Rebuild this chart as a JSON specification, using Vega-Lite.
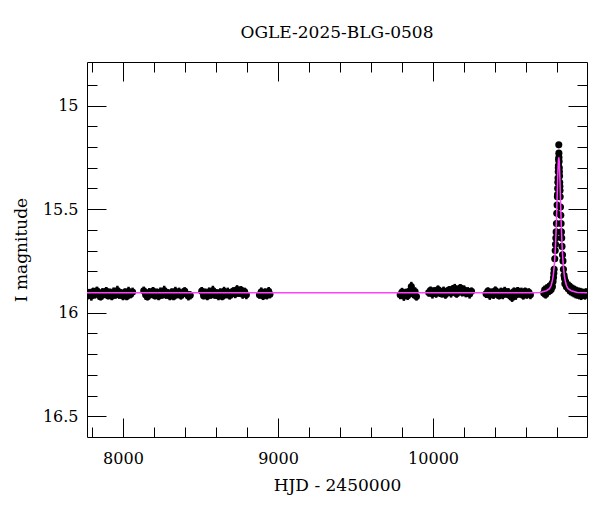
{
  "$schema": "https://vega.github.io/schema/vega-lite/v6.json",
  "width": 500,
  "height": 375,
  "autosize": {"type": "none"},
  "padding": {"left": 87, "top": 62, "right": 13, "bottom": 75},
  "title": {"text": "OGLE-2025-BLG-0508", "font": "DejaVu Serif", "fontSize": 17, "fontWeight": "normal", "color": "black", "offset": 20},
  "datasets": {
    "obs": [
      {"t":7772,"m":15.916,"e":0.020},{"t":7784,"m":15.903,"e":0.018},{"t":7796,"m":15.920,"e":0.022},{"t":7808,"m":15.898,"e":0.019},{"t":7820,"m":15.911,"e":0.021},
      {"t":7832,"m":15.894,"e":0.020},{"t":7844,"m":15.914,"e":0.023},{"t":7856,"m":15.923,"e":0.018},{"t":7868,"m":15.901,"e":0.020},{"t":7880,"m":15.909,"e":0.021},
      {"t":7892,"m":15.896,"e":0.020},{"t":7904,"m":15.918,"e":0.018},{"t":7916,"m":15.905,"e":0.022},{"t":7928,"m":15.921,"e":0.019},{"t":7940,"m":15.899,"e":0.021},
      {"t":7952,"m":15.913,"e":0.020},{"t":7964,"m":15.893,"e":0.023},{"t":7976,"m":15.915,"e":0.018},{"t":7988,"m":15.906,"e":0.020},{"t":8000,"m":15.919,"e":0.021},
      {"t":8012,"m":15.902,"e":0.020},{"t":8024,"m":15.922,"e":0.018},{"t":8036,"m":15.897,"e":0.022},{"t":8048,"m":15.912,"e":0.019},{"t":8062,"m":15.900,"e":0.021},
      {"t":8134,"m":15.894,"e":0.020},{"t":8146,"m":15.914,"e":0.023},{"t":8158,"m":15.923,"e":0.018},{"t":8170,"m":15.901,"e":0.020},{"t":8182,"m":15.909,"e":0.021},
      {"t":8194,"m":15.896,"e":0.020},{"t":8206,"m":15.918,"e":0.018},{"t":8218,"m":15.905,"e":0.022},{"t":8230,"m":15.921,"e":0.019},{"t":8242,"m":15.899,"e":0.021},
      {"t":8254,"m":15.913,"e":0.020},{"t":8266,"m":15.893,"e":0.023},{"t":8278,"m":15.915,"e":0.018},{"t":8290,"m":15.906,"e":0.020},{"t":8302,"m":15.919,"e":0.021},
      {"t":8314,"m":15.902,"e":0.020},{"t":8326,"m":15.922,"e":0.018},{"t":8338,"m":15.897,"e":0.022},{"t":8350,"m":15.912,"e":0.019},{"t":8362,"m":15.900,"e":0.021},
      {"t":8374,"m":15.917,"e":0.020},{"t":8386,"m":15.907,"e":0.023},{"t":8398,"m":15.895,"e":0.018},{"t":8410,"m":15.910,"e":0.020},{"t":8422,"m":15.920,"e":0.021},{"t":8434,"m":15.916,"e":0.020},
      {"t":8508,"m":15.896,"e":0.020},{"t":8520,"m":15.918,"e":0.018},{"t":8532,"m":15.905,"e":0.022},{"t":8544,"m":15.921,"e":0.019},{"t":8556,"m":15.899,"e":0.021},
      {"t":8568,"m":15.913,"e":0.020},{"t":8580,"m":15.893,"e":0.023},{"t":8592,"m":15.915,"e":0.018},{"t":8604,"m":15.906,"e":0.020},{"t":8616,"m":15.919,"e":0.021},
      {"t":8628,"m":15.902,"e":0.020},{"t":8640,"m":15.922,"e":0.018},{"t":8652,"m":15.897,"e":0.022},{"t":8664,"m":15.912,"e":0.019},{"t":8676,"m":15.900,"e":0.021},
      {"t":8688,"m":15.917,"e":0.020},{"t":8700,"m":15.907,"e":0.023},{"t":8712,"m":15.895,"e":0.018},{"t":8724,"m":15.910,"e":0.020},{"t":8736,"m":15.888,"e":0.021},
      {"t":8748,"m":15.904,"e":0.020},{"t":8760,"m":15.890,"e":0.018},{"t":8772,"m":15.911,"e":0.022},{"t":8784,"m":15.898,"e":0.019},{"t":8796,"m":15.914,"e":0.021},
      {"t":8880,"m":15.913,"e":0.020},{"t":8892,"m":15.899,"e":0.021},{"t":8904,"m":15.920,"e":0.019},{"t":8916,"m":15.904,"e":0.022},{"t":8928,"m":15.916,"e":0.020},{"t":8940,"m":15.897,"e":0.021},{"t":8948,"m":15.911,"e":0.020},
      {"t":9788,"m":15.914,"e":0.021},{"t":9800,"m":15.900,"e":0.020},{"t":9812,"m":15.921,"e":0.022},{"t":9824,"m":15.903,"e":0.019},{"t":9836,"m":15.918,"e":0.021},
      {"t":9848,"m":15.896,"e":0.020},{"t":9860,"m":15.874,"e":0.023},{"t":9872,"m":15.910,"e":0.020},{"t":9884,"m":15.898,"e":0.021},{"t":9893,"m":15.922,"e":0.020},
      {"t":9972,"m":15.903,"e":0.020},{"t":9984,"m":15.892,"e":0.018},{"t":9996,"m":15.910,"e":0.022},{"t":10008,"m":15.896,"e":0.019},{"t":10020,"m":15.907,"e":0.021},
      {"t":10032,"m":15.888,"e":0.020},{"t":10044,"m":15.901,"e":0.023},{"t":10056,"m":15.909,"e":0.018},{"t":10068,"m":15.894,"e":0.020},{"t":10080,"m":15.912,"e":0.021},
      {"t":10092,"m":15.898,"e":0.020},{"t":10104,"m":15.890,"e":0.018},{"t":10116,"m":15.905,"e":0.022},{"t":10128,"m":15.885,"e":0.019},{"t":10140,"m":15.882,"e":0.021},
      {"t":10152,"m":15.908,"e":0.020},{"t":10164,"m":15.893,"e":0.023},{"t":10176,"m":15.880,"e":0.018},{"t":10188,"m":15.902,"e":0.020},{"t":10200,"m":15.889,"e":0.021},
      {"t":10212,"m":15.906,"e":0.020},{"t":10224,"m":15.895,"e":0.018},{"t":10236,"m":15.910,"e":0.022},{"t":10248,"m":15.897,"e":0.019},
      {"t":10342,"m":15.909,"e":0.020},{"t":10354,"m":15.896,"e":0.018},{"t":10366,"m":15.916,"e":0.022},{"t":10378,"m":15.902,"e":0.019},{"t":10390,"m":15.913,"e":0.021},
      {"t":10402,"m":15.893,"e":0.020},{"t":10414,"m":15.907,"e":0.023},{"t":10426,"m":15.918,"e":0.018},{"t":10438,"m":15.899,"e":0.020},{"t":10450,"m":15.914,"e":0.021},
      {"t":10462,"m":15.895,"e":0.020},{"t":10474,"m":15.910,"e":0.018},{"t":10486,"m":15.903,"e":0.022},{"t":10498,"m":15.919,"e":0.019},{"t":10510,"m":15.927,"e":0.021},
      {"t":10522,"m":15.898,"e":0.020},{"t":10534,"m":15.915,"e":0.023},{"t":10546,"m":15.894,"e":0.018},{"t":10558,"m":15.908,"e":0.020},{"t":10570,"m":15.900,"e":0.021},
      {"t":10582,"m":15.917,"e":0.020},{"t":10594,"m":15.897,"e":0.018},{"t":10606,"m":15.911,"e":0.022},{"t":10618,"m":15.901,"e":0.019},{"t":10628,"m":15.914,"e":0.021},
      {"t":10714,"m":15.905,"e":0.020},{"t":10720,"m":15.890,"e":0.021},{"t":10726,"m":15.912,"e":0.020},{"t":10732,"m":15.885,"e":0.022},{"t":10738,"m":15.900,"e":0.020},
      {"t":10744,"m":15.878,"e":0.021},{"t":10750,"m":15.895,"e":0.020},{"t":10756,"m":15.870,"e":0.021},{"t":10762,"m":15.888,"e":0.020},{"t":10766,"m":15.862,"e":0.021},
      {"t":10770,"m":15.875,"e":0.020},{"t":10774,"m":15.850,"e":0.020},{"t":10777,"m":15.830,"e":0.019},{"t":10779,"m":15.810,"e":0.019},
      {"t":10781,"m":15.790,"e":0.016},{"t":10785,"m":15.740,"e":0.016},{"t":10788,"m":15.700,"e":0.016},{"t":10790,"m":15.670,"e":0.016},{"t":10792,"m":15.640,"e":0.016},
      {"t":10794,"m":15.610,"e":0.015},{"t":10796,"m":15.570,"e":0.015},{"t":10798,"m":15.520,"e":0.015},{"t":10800,"m":15.480,"e":0.015},{"t":10802,"m":15.440,"e":0.015},
      {"t":10803,"m":15.430,"e":0.015},{"t":10804,"m":15.400,"e":0.015},{"t":10805,"m":15.370,"e":0.014},{"t":10806,"m":15.350,"e":0.014},{"t":10807.5,"m":15.320,"e":0.014},
      {"t":10808,"m":15.300,"e":0.014},{"t":10809,"m":15.290,"e":0.014},{"t":10810,"m":15.260,"e":0.014},{"t":10811,"m":15.190,"e":0.010},{"t":10811.5,"m":15.230,"e":0.014},
      {"t":10812,"m":15.250,"e":0.014},{"t":10813,"m":15.270,"e":0.014},{"t":10814.5,"m":15.300,"e":0.014},{"t":10815,"m":15.320,"e":0.014},{"t":10816,"m":15.340,"e":0.014},
      {"t":10817,"m":15.370,"e":0.014},{"t":10818,"m":15.390,"e":0.015},{"t":10819,"m":15.410,"e":0.015},{"t":10820,"m":15.440,"e":0.015},{"t":10822,"m":15.490,"e":0.015},
      {"t":10824,"m":15.530,"e":0.015},{"t":10826,"m":15.570,"e":0.015},{"t":10828,"m":15.610,"e":0.016},{"t":10830,"m":15.640,"e":0.016},{"t":10832,"m":15.680,"e":0.016},
      {"t":10835,"m":15.720,"e":0.016},{"t":10838,"m":15.750,"e":0.016},{"t":10841,"m":15.790,"e":0.017},{"t":10845,"m":15.820,"e":0.017},{"t":10848,"m":15.835,"e":0.018},
      {"t":10850,"m":15.860,"e":0.020},{"t":10855,"m":15.850,"e":0.020},{"t":10860,"m":15.875,"e":0.021},{"t":10866,"m":15.865,"e":0.020},{"t":10872,"m":15.885,"e":0.021},
      {"t":10878,"m":15.870,"e":0.020},{"t":10884,"m":15.895,"e":0.021},{"t":10890,"m":15.880,"e":0.020},{"t":10896,"m":15.900,"e":0.021},{"t":10902,"m":15.885,"e":0.020},
      {"t":10908,"m":15.905,"e":0.021},{"t":10914,"m":15.890,"e":0.020},{"t":10920,"m":15.910,"e":0.021},{"t":10926,"m":15.895,"e":0.020},{"t":10932,"m":15.912,"e":0.021},
      {"t":10938,"m":15.898,"e":0.020},{"t":10944,"m":15.915,"e":0.021},{"t":10950,"m":15.900,"e":0.020},{"t":10956,"m":15.918,"e":0.021},{"t":10962,"m":15.903,"e":0.020},
      {"t":10968,"m":15.913,"e":0.021},{"t":10974,"m":15.905,"e":0.020},{"t":10980,"m":15.916,"e":0.021},{"t":10986,"m":15.902,"e":0.020},{"t":10991,"m":15.910,"e":0.020}
    ],
    "model": [
      {"t":7768,"m":15.904},{"t":10631,"m":15.904},{"t":10691,"m":15.902},{"t":10731,"m":15.894},{"t":10751,"m":15.884},{"t":10761,"m":15.870},
      {"t":10766,"m":15.857},{"t":10771,"m":15.840},{"t":10776,"m":15.816},{"t":10781,"m":15.780},{"t":10786,"m":15.729},{"t":10788.5,"m":15.695},
      {"t":10791,"m":15.655},{"t":10793.5,"m":15.608},{"t":10796,"m":15.553},{"t":10798.5,"m":15.492},{"t":10801,"m":15.427},{"t":10803.5,"m":15.362},
      {"t":10806,"m":15.305},{"t":10808.5,"m":15.264},{"t":10811,"m":15.250},{"t":10813.5,"m":15.264},{"t":10816,"m":15.305},{"t":10818.5,"m":15.362},
      {"t":10821,"m":15.427},{"t":10823.5,"m":15.492},{"t":10826,"m":15.553},{"t":10828.5,"m":15.608},{"t":10831,"m":15.655},{"t":10833.5,"m":15.695},
      {"t":10836,"m":15.729},{"t":10841,"m":15.780},{"t":10846,"m":15.816},{"t":10851,"m":15.840},{"t":10856,"m":15.857},{"t":10861,"m":15.870},
      {"t":10871,"m":15.884},{"t":10891,"m":15.894},{"t":10931,"m":15.902},{"t":10993,"m":15.904}
    ]
  },
  "layer": [
    {
      "data": {"name": "obs"},
      "mark": {"type": "errorbar", "ticks": false, "thickness": 2.5, "color": "black", "clip": true},
      "encoding": {
        "x": {"field": "t", "type": "quantitative", "scale": {"domain": [7768, 10993], "nice": false, "zero": false}, "axis": null},
        "y": {"field": "m", "type": "quantitative", "scale": {"domain": [14.79, 16.6], "reverse": true, "nice": false, "zero": false}, "axis": null},
        "yError": {"field": "e"}
      }
    },
    {
      "data": {"name": "obs"},
      "mark": {"type": "point", "filled": true, "shape": "circle", "size": 50, "color": "black", "opacity": 1, "clip": true},
      "encoding": {
        "x": {"field": "t", "type": "quantitative", "scale": {"domain": [7768, 10993], "nice": false, "zero": false},
          "axis": {"orient": "bottom", "values": [7800,8000,8200,8400,8600,8800,9000,9200,9400,9600,9800,10000,10200,10400,10600,10800],
            "tickSize": {"condition": {"test": "datum.value % 1000 === 0", "value": -19}, "value": -10},
            "labelExpr": "datum.value % 1000 === 0 ? toString(datum.value) : ''",
            "labelPadding": 45, "labelBaseline": "alphabetic", "labelOverlap": false, "labelFlush": false,
            "title": "HJD - 2450000", "titleX": 250, "titleY": 53, "titleBaseline": "alphabetic", "titleAlign": "center"}},
        "y": {"field": "m", "type": "quantitative", "scale": {"domain": [14.79, 16.6], "reverse": true, "nice": false, "zero": false},
          "axis": {"orient": "left", "values": [14.9,15,15.1,15.2,15.3,15.4,15.5,15.6,15.7,15.8,15.9,16,16.1,16.2,16.3,16.4,16.5],
            "tickSize": {"condition": {"test": "abs(datum.value*2 - round(datum.value*2)) < 0.001", "value": -19}, "value": -10},
            "labelExpr": "abs(datum.value*2 - round(datum.value*2)) < 0.001 ? toString(round(datum.value*10)/10) : ''",
            "labelPadding": 28, "labelOverlap": false, "labelFlush": false,
            "title": "I magnitude", "titleX": -61, "titleY": 187.5, "titleBaseline": "alphabetic", "titleAlign": "center", "titleAngle": -90}}
      }
    },
    {
      "data": {"name": "model"},
      "mark": {"type": "line", "color": "#ff40ff", "strokeWidth": 1.5, "clip": true},
      "encoding": {
        "x": {"field": "t", "type": "quantitative", "scale": {"domain": [7768, 10993], "nice": false, "zero": false},
          "axis": {"orient": "top", "values": [7800,8000,8200,8400,8600,8800,9000,9200,9400,9600,9800,10000,10200,10400,10600,10800],
            "tickSize": {"condition": {"test": "datum.value % 1000 === 0", "value": -19}, "value": -10},
            "labels": false, "title": null}},
        "y": {"field": "m", "type": "quantitative", "scale": {"domain": [14.79, 16.6], "reverse": true, "nice": false, "zero": false},
          "axis": {"orient": "right", "values": [14.9,15,15.1,15.2,15.3,15.4,15.5,15.6,15.7,15.8,15.9,16,16.1,16.2,16.3,16.4,16.5],
            "tickSize": {"condition": {"test": "abs(datum.value*2 - round(datum.value*2)) < 0.001", "value": -19}, "value": -10},
            "labels": false, "title": null}}
      }
    }
  ],
  "resolve": {"axis": {"x": "independent", "y": "independent"}},
  "config": {
    "view": {"stroke": "black", "strokeWidth": 1},
    "font": "DejaVu Serif",
    "axis": {"domain": false, "grid": false, "tickColor": "black", "tickWidth": 1, "labelFont": "DejaVu Serif", "labelFontSize": 16, "labelColor": "black",
      "titleFont": "DejaVu Serif", "titleFontSize": 17, "titleFontWeight": "normal", "titleColor": "black"}
  }
}
